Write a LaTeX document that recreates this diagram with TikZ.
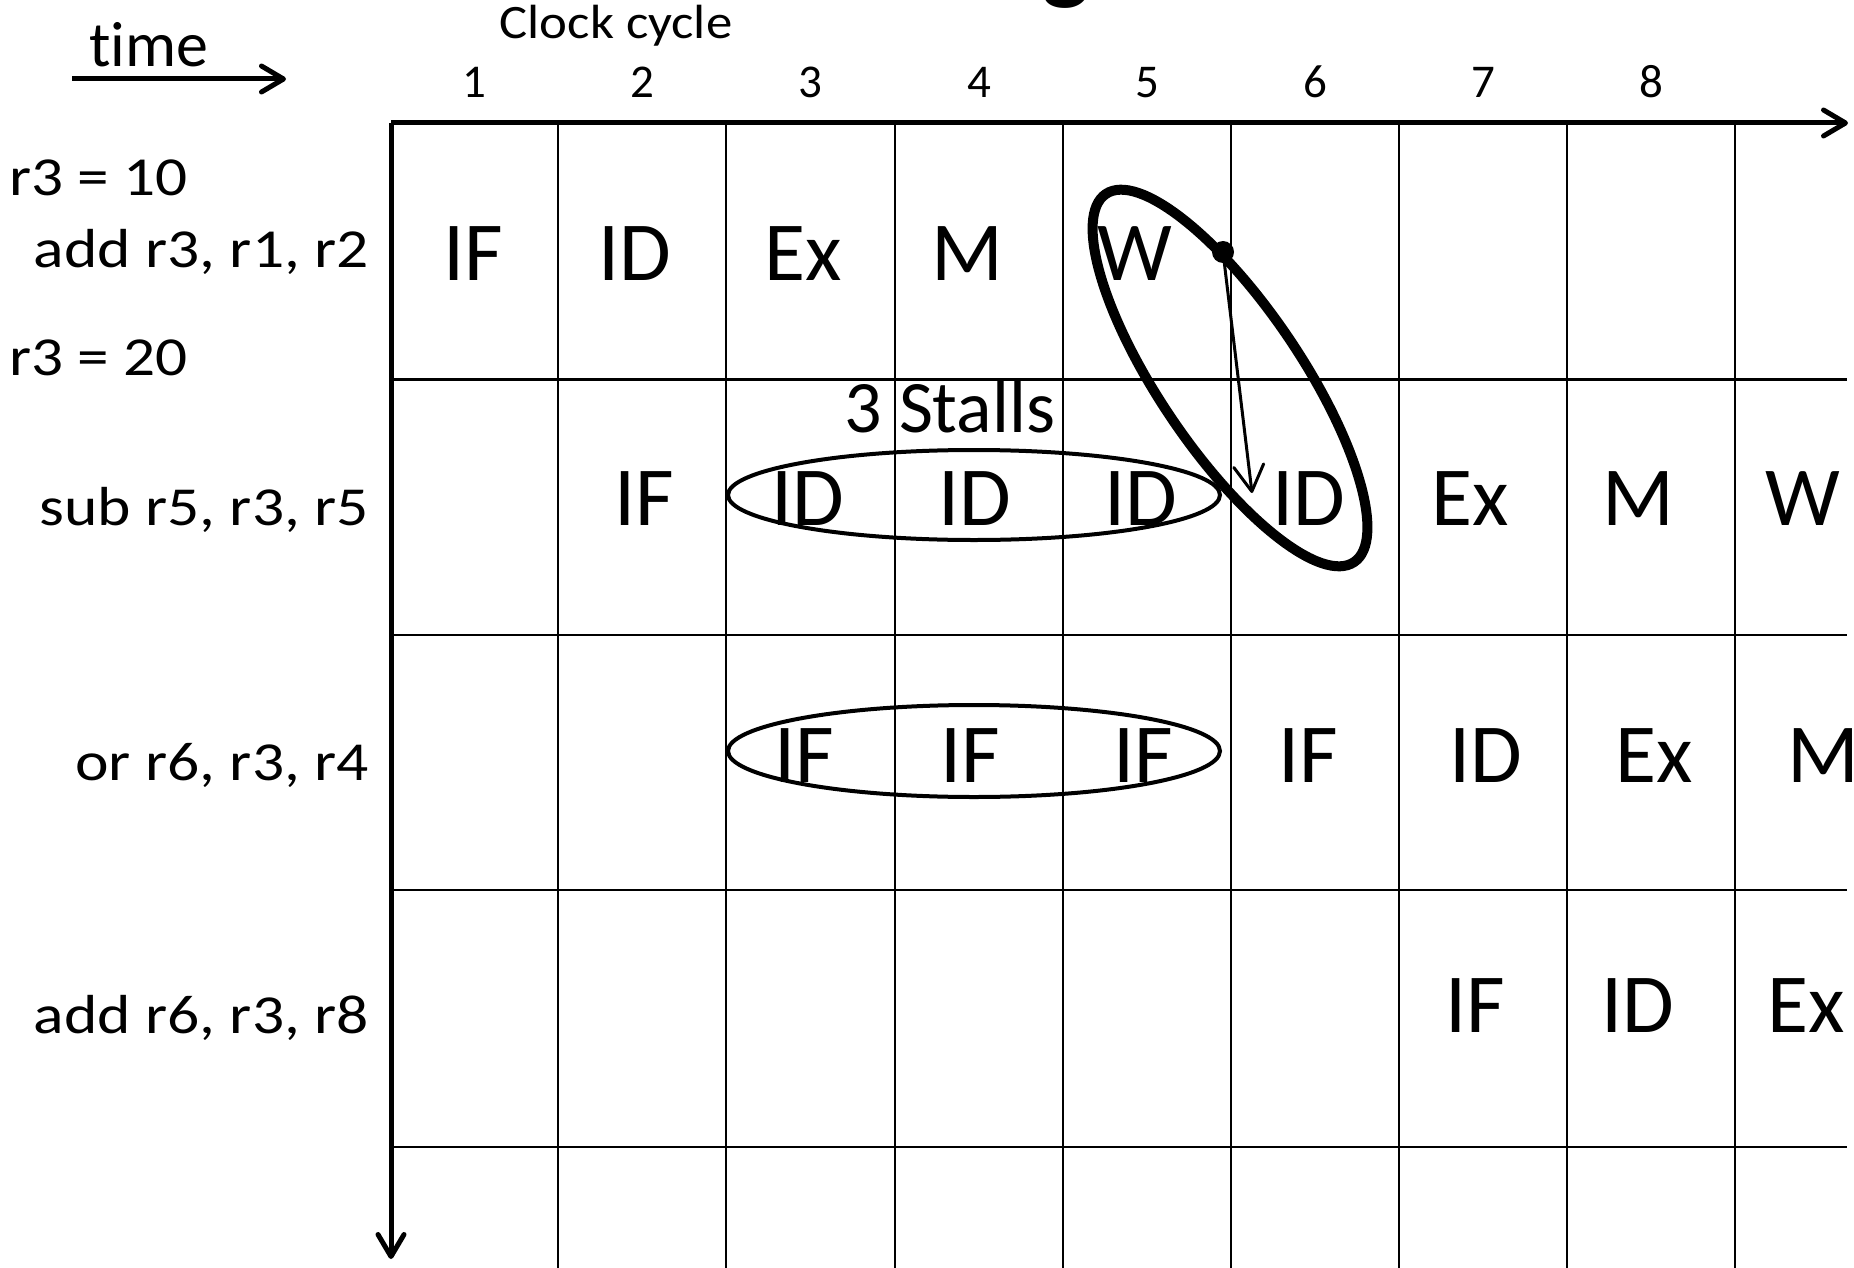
\documentclass[tikz,border=0pt]{standalone}
\usepackage{fontspec}
\usepackage{graphicx}
\setmainfont{Carlito}[Ligatures=NoCommon]
\usetikzlibrary{arrows.meta}
\begin{document}
\begin{tikzpicture}[x=1pt,y=-1pt,
  gridline/.style={line width=2.5pt},
  axisarrow/.style={line width=5pt,-{Straight Barb[length=22pt,width=26pt,round]}},
  stage/.style={inner sep=0pt,anchor=base,font=\fontsize{84}{100}\selectfont},
  rowlab/.style={inner sep=0pt,anchor=base east,font=\fontsize{55}{66}\selectfont},
  reglab/.style={inner sep=0pt,anchor=base west,font=\fontsize{55}{66}\selectfont},
  cyc/.style={inner sep=0pt,anchor=base,font=\fontsize{47}{56}\selectfont},
  thinell/.style={line width=4pt},
  thickell/.style={line width=10pt}]
\useasboundingbox (0,0) rectangle (1854,1268);
% cut-off title glyph
\node[inner sep=0pt,anchor=base,font=\fontsize{100}{120}\selectfont\bfseries] (title) at (1066,-8) {g};
% time arrow
\node[inner sep=0pt,anchor=base,font=\fontsize{64}{76}\selectfont] (time) at (149,67) {time};
\coordinate (t0) at (72,79);
\coordinate (t1) at (286,79);
\draw[axisarrow] (t0) -- (t1);
% clock cycle
\node[inner sep=0pt,anchor=base,font=\fontsize{48}{58}\selectfont] (clock) at (616,39) {\scalebox{1.1}[1]{Clock cycle}};
\foreach \n/\x in {1/474.5,2/642,3/810.5,4/979,5/1147,6/1315,7/1483,8/1651}
  \node[cyc] (c\n) at (\x,98) {\n};
% grid
\foreach \x in {558,726,895,1063,1231,1399,1567,1735}
  \draw[gridline] (\x,123) -- (\x,1268);
\foreach \y in {379.5,635,890,1147}
  \draw[gridline] (391,\y) -- (1847,\y);
% axes
\coordinate (O) at (391,123);
\coordinate (hx) at (1848,123);
\coordinate (vy) at (391,1259);
\draw[axisarrow] (O) -- (hx);
\draw[axisarrow] (O) -- (vy);
% row labels
\node[reglab] (r10) at (9,196) {\scalebox{1.15}[1]{r3 = 10}};
\node[rowlab] (i1) at (369,267) {\scalebox{1.155}[1]{add r3, r1, r2}};
\node[reglab] (r20) at (9,375) {\scalebox{1.15}[1]{r3 = 20}};
\node[rowlab] (i2) at (369,525) {\scalebox{1.155}[1]{sub r5, r3, r5}};
\node[rowlab] (i3) at (369,780) {\scalebox{1.155}[1]{or r6, r3, r4}};
\node[rowlab] (i4) at (369,1033) {\scalebox{1.155}[1]{add r6, r3, r8}};
% stages row 1
\node[stage] (a1) at (473,280) {IF};
\node[stage] (a2) at (635,280) {ID};
\node[stage] (a3) at (803,280) {Ex};
\node[stage] (a4) at (967,280) {M};
\node[stage] (a5) at (1135,280) {W};
% row 2
\node[stage] (b2) at (644,525) {IF};
\node[stage] (b3) at (808,525) {ID};
\node[stage] (b4) at (975,525) {ID};
\node[stage] (b5) at (1141,525) {ID};
\node[stage] (b6) at (1309,525) {ID};
\node[stage] (b7) at (1470,525) {Ex};
\node[stage] (b8) at (1638,525) {M};
\node[stage] (b9) at (1803,525) {W};
% row 3
\node[stage] (d3) at (804,782) {IF};
\node[stage] (d4) at (970,782) {IF};
\node[stage] (d5) at (1143,782) {IF};
\node[stage] (d6) at (1308,782) {IF};
\node[stage] (d7) at (1486,782) {ID};
\node[stage] (d8) at (1654,782) {Ex};
\node[stage] (d9) at (1823,782) {M};
% row 4
\node[stage] (e7) at (1475,1032) {IF};
\node[stage] (e8) at (1638,1032) {ID};
\node[stage] (e9) at (1806,1032) {Ex};
% stalls
\node[inner sep=0pt,anchor=base,font=\fontsize{74}{88}\selectfont] (stalls) at (950,432) {3 Stalls};
% ellipses
\draw[thinell] (974,495) ellipse [x radius=246pt,y radius=45pt];
\draw[thinell] (974,751) ellipse [x radius=246pt,y radius=46pt];
\draw[thickell,rotate around={-56:(1230,378)}] (1230,378) ellipse [x radius=222pt,y radius=71pt];
% forwarding arrow
\coordinate (dot) at (1223,252);
\coordinate (tip) at (1252,493);
\fill (dot) circle [radius=11pt];
\draw[line width=3pt,-{Straight Barb[length=26pt,width=30pt,round]}] (dot) -- (tip);
\end{tikzpicture}
\end{document}
